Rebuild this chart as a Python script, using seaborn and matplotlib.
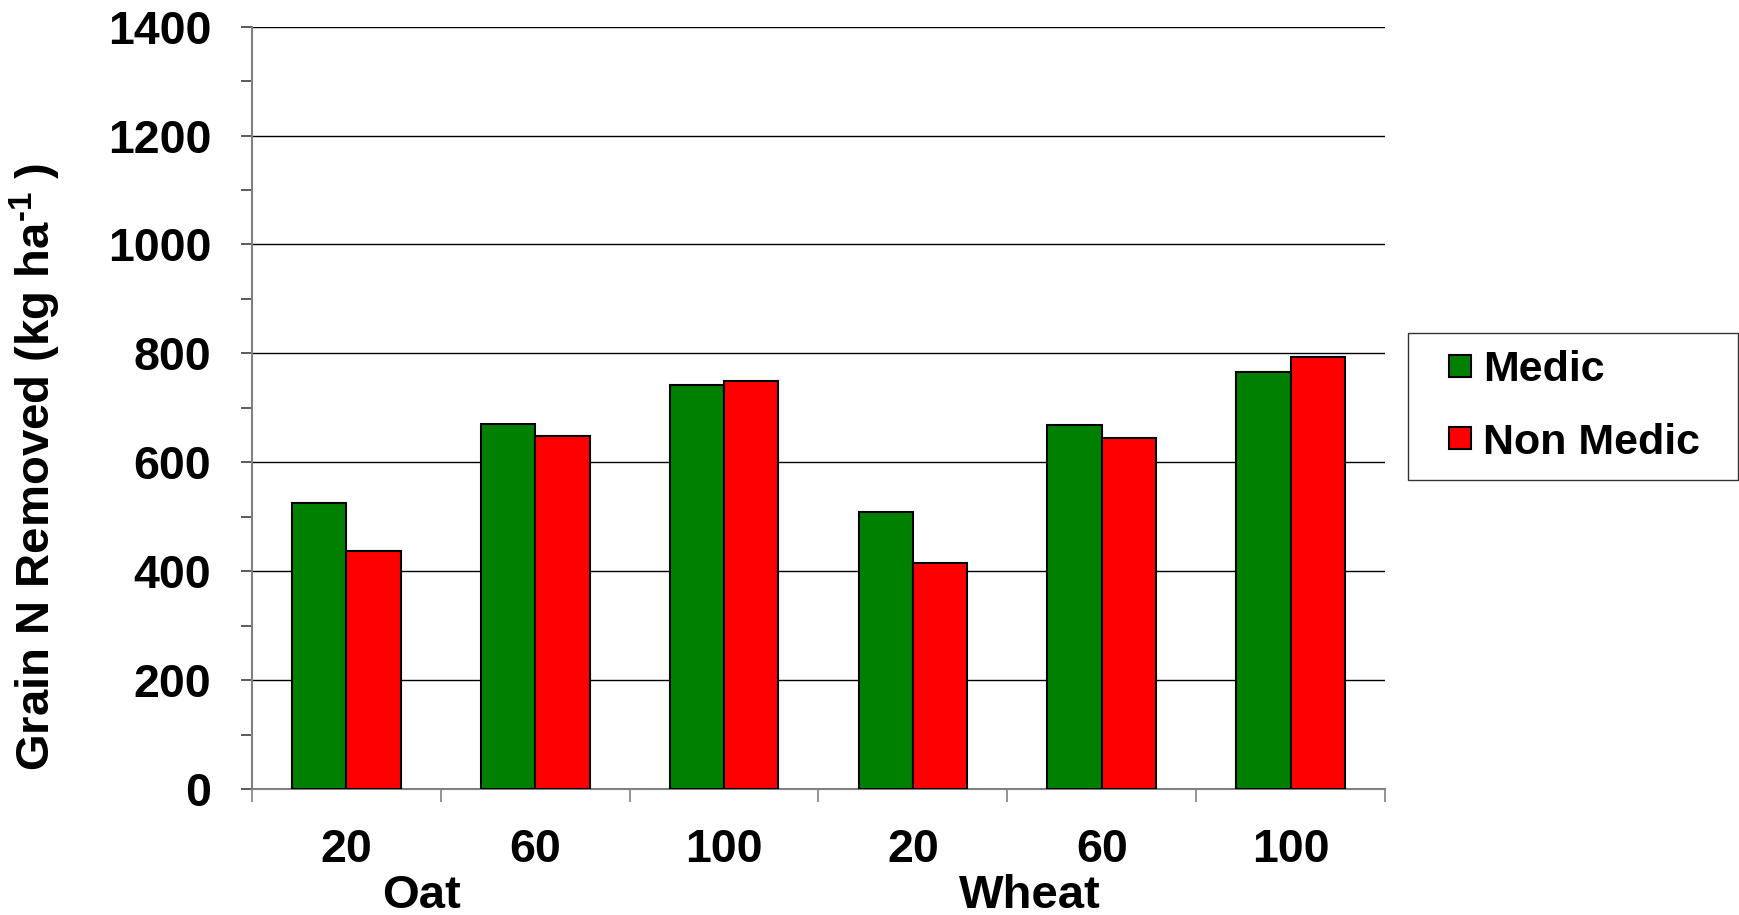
import numpy as np
import pandas as pd
import matplotlib
matplotlib.use("Agg")
import matplotlib.pyplot as plt
from matplotlib.lines import Line2D
from matplotlib.ticker import MultipleLocator
import matplotlib.transforms as mtransforms
import seaborn as sns

# Grain N removed (kg/ha) by crop, N rate and medic history
crops = ["Oat", "Wheat"]
rates = ["20", "60", "100"]
series = ["Medic", "Non Medic"]
medic = [525, 670, 742, 508, 669, 766]
non_medic = [437, 648, 750, 415, 644, 794]
colors = ["#008000", "#FF0000"]
group_label_x = [0.4, 3.62]

categories = [f"{c} {r}" for c in crops for r in rates]
df = pd.DataFrame({
    "category": categories * 2,
    "series": [series[0]] * len(categories) + [series[1]] * len(categories),
    "value": medic + non_medic,
})

sns.set_theme(style="white")
plt.rcParams["font.family"] = ["Liberation Sans", "DejaVu Sans"]
plt.rcParams["font.weight"] = "bold"
plt.rcParams["text.color"] = "black"
plt.rcParams["axes.labelcolor"] = "black"
plt.rcParams["xtick.labelcolor"] = "black"
plt.rcParams["ytick.labelcolor"] = "black"
plt.rcParams["mathtext.fontset"] = "custom"
plt.rcParams["mathtext.rm"] = "Liberation Sans:bold"
plt.rcParams["mathtext.default"] = "rm"

fig = plt.figure(figsize=(17.4, 9.15), dpi=100)
ax = fig.add_axes([252 / 1740, 1 - 789 / 915, 1133 / 1740, 762.4 / 915])

sns.barplot(data=df, x="category", y="value", hue="series",
            order=categories, hue_order=series, palette=colors,
            saturation=1, width=0.576, gap=0, edgecolor="black",
            linewidth=1.5, legend=False, ax=ax, zorder=3)

# y axis
ax.set_ylim(0, 1400)
ax.yaxis.set_major_locator(MultipleLocator(200))
ax.yaxis.set_minor_locator(MultipleLocator(100))
ax.yaxis.grid(True, which="major", color="black", linewidth=1.0)
ax.set_axisbelow(True)
ax.tick_params(axis="y", which="both", left=True, direction="out",
               length=8, width=1.2, color="#404040", pad=21.5,
               labelsize=33.5, labelcolor="black")
ax.set_ylabel("Grain N Removed (kg ha$^{\\text{-}1}$ )", fontsize=34,
              fontweight="bold", va="center", color="black")
ax.yaxis.set_label_coords(-0.191, 0.422)

# x axis: rate labels at bar centres, tick marks at category boundaries
ax.set_xlim(-0.5, len(categories) - 0.5)
ax.set_xticks(range(len(categories)), labels=rates * len(crops))
ax.set_xticks(np.arange(-0.5, len(categories), 1.0), minor=True)
ax.tick_params(axis="x", which="major", length=0, pad=28, labelsize=33.5,
               labelcolor="black")
ax.tick_params(axis="x", which="minor", bottom=True, direction="out",
               length=9.5, width=1.2, color="#808080")
ax.set_xlabel("")

trans = mtransforms.blended_transform_factory(ax.transData, ax.transAxes)
for crop, gx in zip(crops, group_label_x):
    ax.text(gx, -0.111, crop, transform=trans, ha="center", va="top",
            fontsize=34, fontweight="bold", color="black")

for side in ("top", "right"):
    ax.spines[side].set_visible(False)
for side in ("left", "bottom"):
    ax.spines[side].set_color("#808080")
    ax.spines[side].set_linewidth(1.5)

# legend
handles = [Line2D([], [], linestyle="none", marker="s", markersize=16,
                  markerfacecolor=c, markeredgecolor="black",
                  markeredgewidth=1.5) for c in colors]
leg = fig.legend(handles, series, loc="upper left",
                 bbox_to_anchor=(1408 / 1740, 1 - 480 / 915, 330 / 1740, 147 / 915),
                 mode="expand", borderaxespad=0,
                 frameon=True, fancybox=False, borderpad=0.4,
                 labelspacing=0.75, handlelength=1.63, handletextpad=-0.29,
                 prop={"weight": "bold", "size": 31}, labelcolor="black")
leg.get_frame().set_edgecolor("black")
leg.get_frame().set_linewidth(1.0)
leg.get_frame().set_facecolor("white")

fig.savefig("out.png", dpi=100, facecolor="white")
